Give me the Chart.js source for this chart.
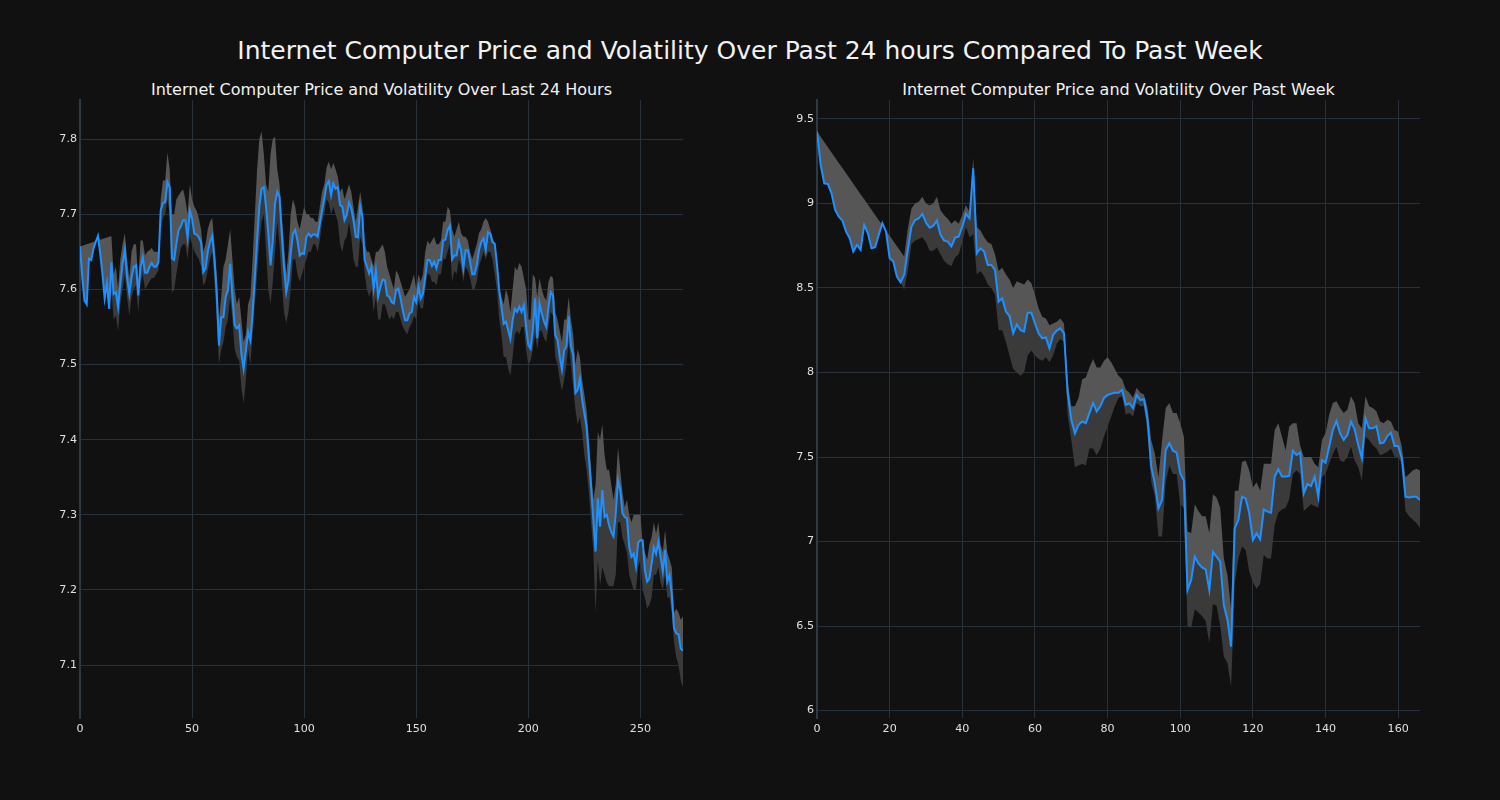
<!DOCTYPE html>
<html>
<head>
<meta charset="utf-8">
<script src="https://cdn.jsdelivr.net/npm/chart.js@4.4.1/dist/chart.umd.min.js"></script>
<style>
  html, body { margin: 0; padding: 0; background: #111111; }
  #wrap { position: relative; width: 1500px; height: 800px; background: #111111; overflow: hidden; font-family: 'DejaVu Sans', sans-serif; }
  canvas { position: absolute; top: 0; }
  .t { position: absolute; color: #f2f2f2; white-space: nowrap; transform: translate(-50%, -50%); }
</style>
</head>
<body>
<div id="wrap">
  <div class="t" style="left:750px; top:50px; font-size:25px;">Internet Computer Price and Volatility Over Past 24 hours Compared To Past Week</div>
  <div class="t" style="left:381.5px; top:89px; font-size:16px;">Internet Computer Price and Volatility Over Last 24 Hours</div>
  <div class="t" style="left:1118.5px; top:89px; font-size:16px;">Internet Computer Price and Volatility Over Past Week</div>
  <canvas id="c1" width="700" height="800" style="left:0px;"></canvas>
  <canvas id="c2" width="700" height="800" style="left:737px;"></canvas>
</div>
<script>
// ---- Last 24 hours (5-minute steps) ----
const dayPrice = [
7.657,7.616,7.585,7.580,7.641,7.639,7.654,7.663,7.671,7.648,
7.621,7.588,7.608,7.574,7.636,7.594,7.596,7.576,7.608,7.634,
7.653,7.616,7.594,7.616,7.630,7.632,7.592,7.630,7.643,7.622,
7.622,7.630,7.635,7.630,7.630,7.636,7.705,7.715,7.716,7.743,
7.736,7.641,7.639,7.661,7.679,7.684,7.692,7.692,7.668,7.705,
7.694,7.674,7.673,7.669,7.663,7.623,7.628,7.650,7.663,7.671,
7.639,7.594,7.525,7.563,7.563,7.590,7.599,7.634,7.590,7.552,
7.548,7.552,7.514,7.494,7.519,7.543,7.532,7.568,7.616,7.665,
7.710,7.734,7.736,7.710,7.674,7.632,7.665,7.714,7.730,7.723,
7.674,7.630,7.596,7.612,7.648,7.674,7.679,7.665,7.645,7.648,
7.647,7.670,7.674,7.670,7.673,7.673,7.670,7.688,7.705,7.721,
7.739,7.744,7.725,7.741,7.734,7.736,7.712,7.710,7.692,7.699,
7.716,7.708,7.692,7.670,7.669,7.710,7.696,7.639,7.630,7.621,
7.630,7.601,7.625,7.590,7.603,7.613,7.612,7.592,7.590,7.583,
7.581,7.599,7.601,7.588,7.572,7.559,7.559,7.568,7.570,7.590,
7.583,7.603,7.588,7.594,7.617,7.639,7.639,7.631,7.637,7.628,
7.639,7.639,7.665,7.666,7.679,7.685,7.640,7.645,7.645,7.663,
7.652,7.628,7.652,7.652,7.637,7.620,7.620,7.632,7.652,7.663,
7.668,7.652,7.676,7.674,7.663,7.661,7.634,7.599,7.577,7.554,
7.557,7.546,7.534,7.559,7.574,7.570,7.577,7.570,7.579,7.550,
7.526,7.521,7.546,7.588,7.535,7.581,7.568,7.557,7.550,7.577,
7.596,7.592,7.539,7.533,7.510,7.493,7.519,7.524,7.564,7.524,
7.513,7.462,7.466,7.481,7.453,7.435,7.417,7.377,7.337,7.293,
7.251,7.322,7.284,7.333,7.297,7.300,7.286,7.277,7.271,7.302,
7.346,7.333,7.302,7.297,7.295,7.257,7.244,7.248,7.231,7.263,
7.266,7.266,7.226,7.211,7.215,7.235,7.257,7.248,7.264,7.244,
7.224,7.253,7.211,7.220,7.193,7.149,7.142,7.141,7.122,7.119
];
const dayUpper = [
7.657,7.658,7.659,7.660,7.661,7.662,7.663,7.665,7.672,7.666,
7.667,7.668,7.669,7.670,7.671,7.620,7.630,7.600,7.640,7.660,
7.675,7.640,7.615,7.650,7.660,7.660,7.610,7.665,7.665,7.645,
7.650,7.652,7.655,7.650,7.650,7.650,7.720,7.745,7.745,7.782,
7.760,7.700,7.700,7.720,7.725,7.730,7.733,7.720,7.700,7.740,
7.720,7.710,7.705,7.695,7.680,7.650,7.660,7.680,7.690,7.695,
7.660,7.620,7.560,7.590,7.630,7.640,7.660,7.680,7.640,7.600,
7.580,7.590,7.560,7.530,7.540,7.580,7.590,7.640,7.700,7.760,
7.800,7.810,7.780,7.740,7.730,7.780,7.800,7.803,7.760,7.740,
7.700,7.660,7.620,7.650,7.700,7.720,7.710,7.690,7.680,7.695,
7.710,7.700,7.700,7.695,7.695,7.690,7.690,7.710,7.730,7.740,
7.762,7.770,7.760,7.768,7.760,7.750,7.730,7.735,7.720,7.730,
7.740,7.730,7.710,7.690,7.710,7.730,7.710,7.660,7.650,7.650,
7.640,7.630,7.650,7.650,7.655,7.660,7.650,7.630,7.620,7.610,
7.600,7.625,7.620,7.610,7.600,7.590,7.595,7.600,7.610,7.620,
7.600,7.620,7.610,7.620,7.650,7.665,7.660,7.665,7.670,7.660,
7.660,7.665,7.690,7.690,7.710,7.705,7.680,7.670,7.680,7.690,
7.675,7.670,7.670,7.665,7.650,7.640,7.650,7.660,7.675,7.680,
7.690,7.695,7.690,7.680,7.670,7.660,7.630,7.600,7.590,7.580,
7.600,7.590,7.570,7.600,7.630,7.625,7.635,7.630,7.615,7.600,
7.560,7.560,7.620,7.615,7.590,7.615,7.600,7.590,7.585,7.610,
7.618,7.615,7.570,7.560,7.545,7.530,7.560,7.560,7.590,7.560,
7.540,7.500,7.520,7.510,7.480,7.460,7.440,7.400,7.360,7.320,
7.340,7.410,7.400,7.420,7.380,7.360,7.360,7.340,7.320,7.340,
7.390,7.360,7.330,7.310,7.320,7.300,7.290,7.300,7.300,7.300,
7.300,7.260,7.250,7.240,7.260,7.270,7.290,7.275,7.290,7.260,
7.250,7.280,7.250,7.240,7.230,7.170,7.175,7.170,7.160,7.165
];
const dayLower = [
7.657,7.616,7.585,7.580,7.641,7.639,7.654,7.663,7.671,7.648,
7.621,7.588,7.600,7.574,7.600,7.560,7.565,7.545,7.580,7.600,
7.620,7.590,7.565,7.590,7.600,7.605,7.570,7.610,7.620,7.600,
7.605,7.610,7.615,7.615,7.620,7.625,7.680,7.695,7.700,7.720,
7.700,7.595,7.600,7.620,7.640,7.655,7.660,7.660,7.640,7.670,
7.660,7.650,7.645,7.640,7.630,7.605,7.610,7.625,7.640,7.650,
7.610,7.560,7.500,7.520,7.530,7.550,7.560,7.590,7.560,7.520,
7.510,7.505,7.470,7.448,7.480,7.520,7.500,7.540,7.580,7.620,
7.660,7.690,7.700,7.650,7.600,7.580,7.610,7.650,7.690,7.660,
7.610,7.570,7.555,7.570,7.600,7.640,7.640,7.620,7.610,7.620,
7.630,7.640,7.650,7.650,7.660,7.660,7.650,7.665,7.690,7.700,
7.720,7.715,7.700,7.710,7.700,7.690,7.660,7.650,7.665,7.670,
7.690,7.670,7.640,7.630,7.630,7.670,7.660,7.620,7.600,7.590,
7.600,7.570,7.590,7.560,7.560,7.580,7.580,7.570,7.560,7.565,
7.560,7.570,7.570,7.560,7.550,7.545,7.540,7.550,7.555,7.565,
7.560,7.585,7.575,7.575,7.600,7.620,7.620,7.610,7.610,7.605,
7.620,7.620,7.640,7.640,7.650,7.660,7.610,7.625,7.620,7.640,
7.630,7.610,7.630,7.625,7.615,7.600,7.600,7.610,7.630,7.640,
7.650,7.640,7.650,7.650,7.640,7.620,7.600,7.560,7.540,7.510,
7.510,7.495,7.485,7.510,7.540,7.545,7.540,7.550,7.550,7.520,
7.500,7.505,7.520,7.540,7.520,7.545,7.545,7.535,7.530,7.550,
7.570,7.565,7.510,7.500,7.480,7.465,7.480,7.500,7.530,7.500,
7.470,7.440,7.420,7.430,7.410,7.380,7.360,7.330,7.290,7.250,
7.170,7.240,7.205,7.230,7.220,7.210,7.205,7.205,7.205,7.220,
7.290,7.290,7.270,7.260,7.250,7.220,7.210,7.200,7.200,7.230,
7.240,7.200,7.190,7.175,7.180,7.190,7.220,7.220,7.230,7.210,
7.200,7.220,7.190,7.190,7.170,7.130,7.110,7.100,7.080,7.070
];

// ---- Past week (hourly) ----
const weekPrice = [
9.425,9.228,9.119,9.115,9.060,8.962,8.922,8.898,8.833,8.794,
8.715,8.755,8.725,8.873,8.823,8.735,8.741,8.814,8.883,8.833,
8.676,8.656,8.567,8.534,8.577,8.725,8.863,8.902,8.912,8.938,
8.887,8.857,8.867,8.898,8.814,8.780,8.774,8.745,8.798,8.804,
8.863,8.938,8.912,9.208,8.705,8.735,8.715,8.636,8.636,8.607,
8.419,8.439,8.360,8.334,8.232,8.285,8.251,8.242,8.354,8.354,
8.291,8.232,8.202,8.208,8.143,8.222,8.248,8.261,8.232,7.880,
7.720,7.640,7.690,7.710,7.700,7.760,7.820,7.770,7.800,7.850,
7.867,7.875,7.880,7.880,7.896,7.808,7.818,7.788,7.867,7.837,
7.841,7.719,7.443,7.344,7.196,7.246,7.541,7.581,7.537,7.526,
7.403,7.360,6.713,6.772,6.910,6.871,6.847,6.835,6.713,6.940,
6.910,6.881,6.624,6.536,6.378,7.078,7.127,7.265,7.255,7.167,
7.009,7.048,7.013,7.190,7.177,7.171,7.384,7.427,7.384,7.384,
7.388,7.537,7.512,7.526,7.285,7.340,7.328,7.384,7.265,7.482,
7.466,7.561,7.660,7.713,7.640,7.601,7.630,7.709,7.664,7.571,
7.492,7.729,7.670,7.670,7.683,7.581,7.585,7.624,7.644,7.565,
7.565,7.492,7.265,7.261,7.265,7.265,7.246
];
const weekUpper = [
9.425,9.394,9.363,9.333,9.302,9.271,9.240,9.209,9.179,9.148,
9.117,9.086,9.055,9.025,8.994,8.963,8.932,8.901,8.871,8.840,
8.809,8.778,8.747,8.717,8.686,8.850,8.970,9.000,9.010,9.040,
9.000,8.990,9.000,9.040,8.960,8.930,8.910,8.880,8.900,8.880,
8.930,8.990,8.950,9.270,8.860,8.840,8.800,8.770,8.760,8.700,
8.600,8.620,8.580,8.550,8.500,8.540,8.530,8.520,8.550,8.530,
8.460,8.380,8.330,8.320,8.280,8.290,8.300,8.320,8.290,7.950,
7.800,7.800,7.850,7.960,7.970,8.030,8.080,8.030,8.030,8.070,
8.090,8.060,8.020,7.980,7.960,7.900,7.880,7.850,7.910,7.880,
7.870,7.790,7.600,7.520,7.380,7.600,7.790,7.820,7.760,7.760,
7.700,7.620,7.060,7.050,7.220,7.180,7.150,7.150,7.050,7.280,
7.260,7.200,6.900,6.800,6.600,7.300,7.300,7.470,7.480,7.420,
7.320,7.350,7.300,7.460,7.460,7.460,7.660,7.700,7.620,7.540,
7.680,7.700,7.700,7.570,7.500,7.500,7.500,7.460,7.440,7.600,
7.640,7.750,7.820,7.830,7.790,7.760,7.780,7.860,7.820,7.700,
7.670,7.860,7.800,7.790,7.770,7.710,7.700,7.720,7.710,7.660,
7.650,7.560,7.380,7.400,7.420,7.430,7.420
];
const weekLower = [
9.425,9.228,9.119,9.115,9.060,8.962,8.922,8.898,8.833,8.794,
8.715,8.755,8.725,8.873,8.823,8.735,8.741,8.814,8.883,8.833,
8.676,8.656,8.567,8.534,8.490,8.600,8.760,8.780,8.790,8.800,
8.770,8.720,8.720,8.740,8.700,8.660,8.640,8.630,8.680,8.700,
8.770,8.860,8.800,8.820,8.580,8.600,8.570,8.520,8.500,8.460,
8.250,8.250,8.180,8.100,8.020,8.000,7.980,8.000,8.100,8.130,
8.100,8.080,8.070,8.090,8.060,8.100,8.170,8.200,8.180,7.750,
7.600,7.440,7.450,7.460,7.450,7.550,7.550,7.510,7.550,7.620,
7.680,7.740,7.800,7.850,7.860,7.750,7.760,7.740,7.820,7.800,
7.800,7.650,7.350,7.270,7.030,7.030,7.350,7.450,7.400,7.400,
7.220,7.200,6.500,6.490,6.600,6.580,6.560,6.530,6.400,6.630,
6.620,6.500,6.320,6.280,6.140,6.750,6.900,6.970,6.950,6.820,
6.760,6.720,6.750,6.920,6.900,6.900,7.100,7.170,7.190,7.200,
7.250,7.400,7.420,7.400,7.180,7.200,7.220,7.210,7.200,7.380,
7.400,7.460,7.520,7.560,7.480,7.470,7.500,7.560,7.480,7.440,
7.360,7.620,7.600,7.570,7.550,7.510,7.520,7.530,7.550,7.500,
7.500,7.460,7.180,7.150,7.130,7.110,7.080
];

const dayXTicks = [0, 50, 100, 150, 200, 250];
const weekXTicks = [0, 20, 40, 60, 80, 100, 120, 140, 160];
const dayYTicks = [7.1, 7.2, 7.3, 7.4, 7.5, 7.6, 7.7, 7.8];
const weekYTicks = [6, 6.5, 7, 7.5, 8, 8.5, 9, 9.5];

const GRID = '#29313b';
const BORDER = '#2f3945';
const TICK = '#e0e0e0';
const FONT = 'DejaVu Sans';

function pts(arr) { return arr.map((v, i) => ({ x: i, y: v })); }

function makeChart(id, price, upper, lower, xTicks, yTicks, xMax, yMin, yMax) {
  const ctx = document.getElementById(id).getContext('2d');
  return new Chart(ctx, {
    type: 'line',
    data: {
      datasets: [
        { data: pts(price), borderColor: '#1e90ff', borderWidth: 2, pointRadius: 0, tension: 0, fill: false },
        { data: pts(upper), borderWidth: 0, borderColor: 'rgba(0,0,0,0)', pointRadius: 0, tension: 0,
          fill: '-1', backgroundColor: '#565656' },
        { data: pts(lower), borderWidth: 0, borderColor: 'rgba(0,0,0,0)', pointRadius: 0, tension: 0,
          fill: '-2', backgroundColor: '#3a3a3a' }
      ]
    },
    options: {
      responsive: false,
      animation: false,
      devicePixelRatio: 1,
      layout: { padding: { top: 100, right: 17, left: 0, bottom: 0 } },
      plugins: { legend: { display: false }, tooltip: { enabled: false }, title: { display: false } },
      scales: {
        x: {
          type: 'linear', min: 0, max: xMax,
          afterFit: (s) => { s.height = 82; },
          afterBuildTicks: (s) => { s.ticks = xTicks.map(v => ({ value: v })); },
          grid: { color: GRID, lineWidth: 1, drawTicks: false },
          border: { display: false },
          ticks: { color: TICK, font: { family: FONT, size: 11.1 }, padding: 4, maxRotation: 0,
                   callback: (v) => String(v) }
        },
        y: {
          type: 'linear', min: yMin, max: yMax,
          afterFit: (s) => { s.width = 80; },
          afterBuildTicks: (s) => { s.ticks = yTicks.map(v => ({ value: v })); },
          grid: { color: GRID, lineWidth: 1, drawTicks: false },
          border: { display: true, color: BORDER, width: 2 },
          ticks: { color: TICK, font: { family: FONT, size: 11.1 }, padding: 3,
                   callback: (v) => String(parseFloat(Number(v).toFixed(2))) }
        }
      }
    }
  });
}

makeChart('c1', dayPrice, dayUpper, dayLower, dayXTicks, dayYTicks, 269, 7.0295, 7.852);
makeChart('c2', weekPrice, weekUpper, weekLower, weekXTicks, weekYTicks, 166, 5.956, 9.612);
</script>
</body>
</html>
